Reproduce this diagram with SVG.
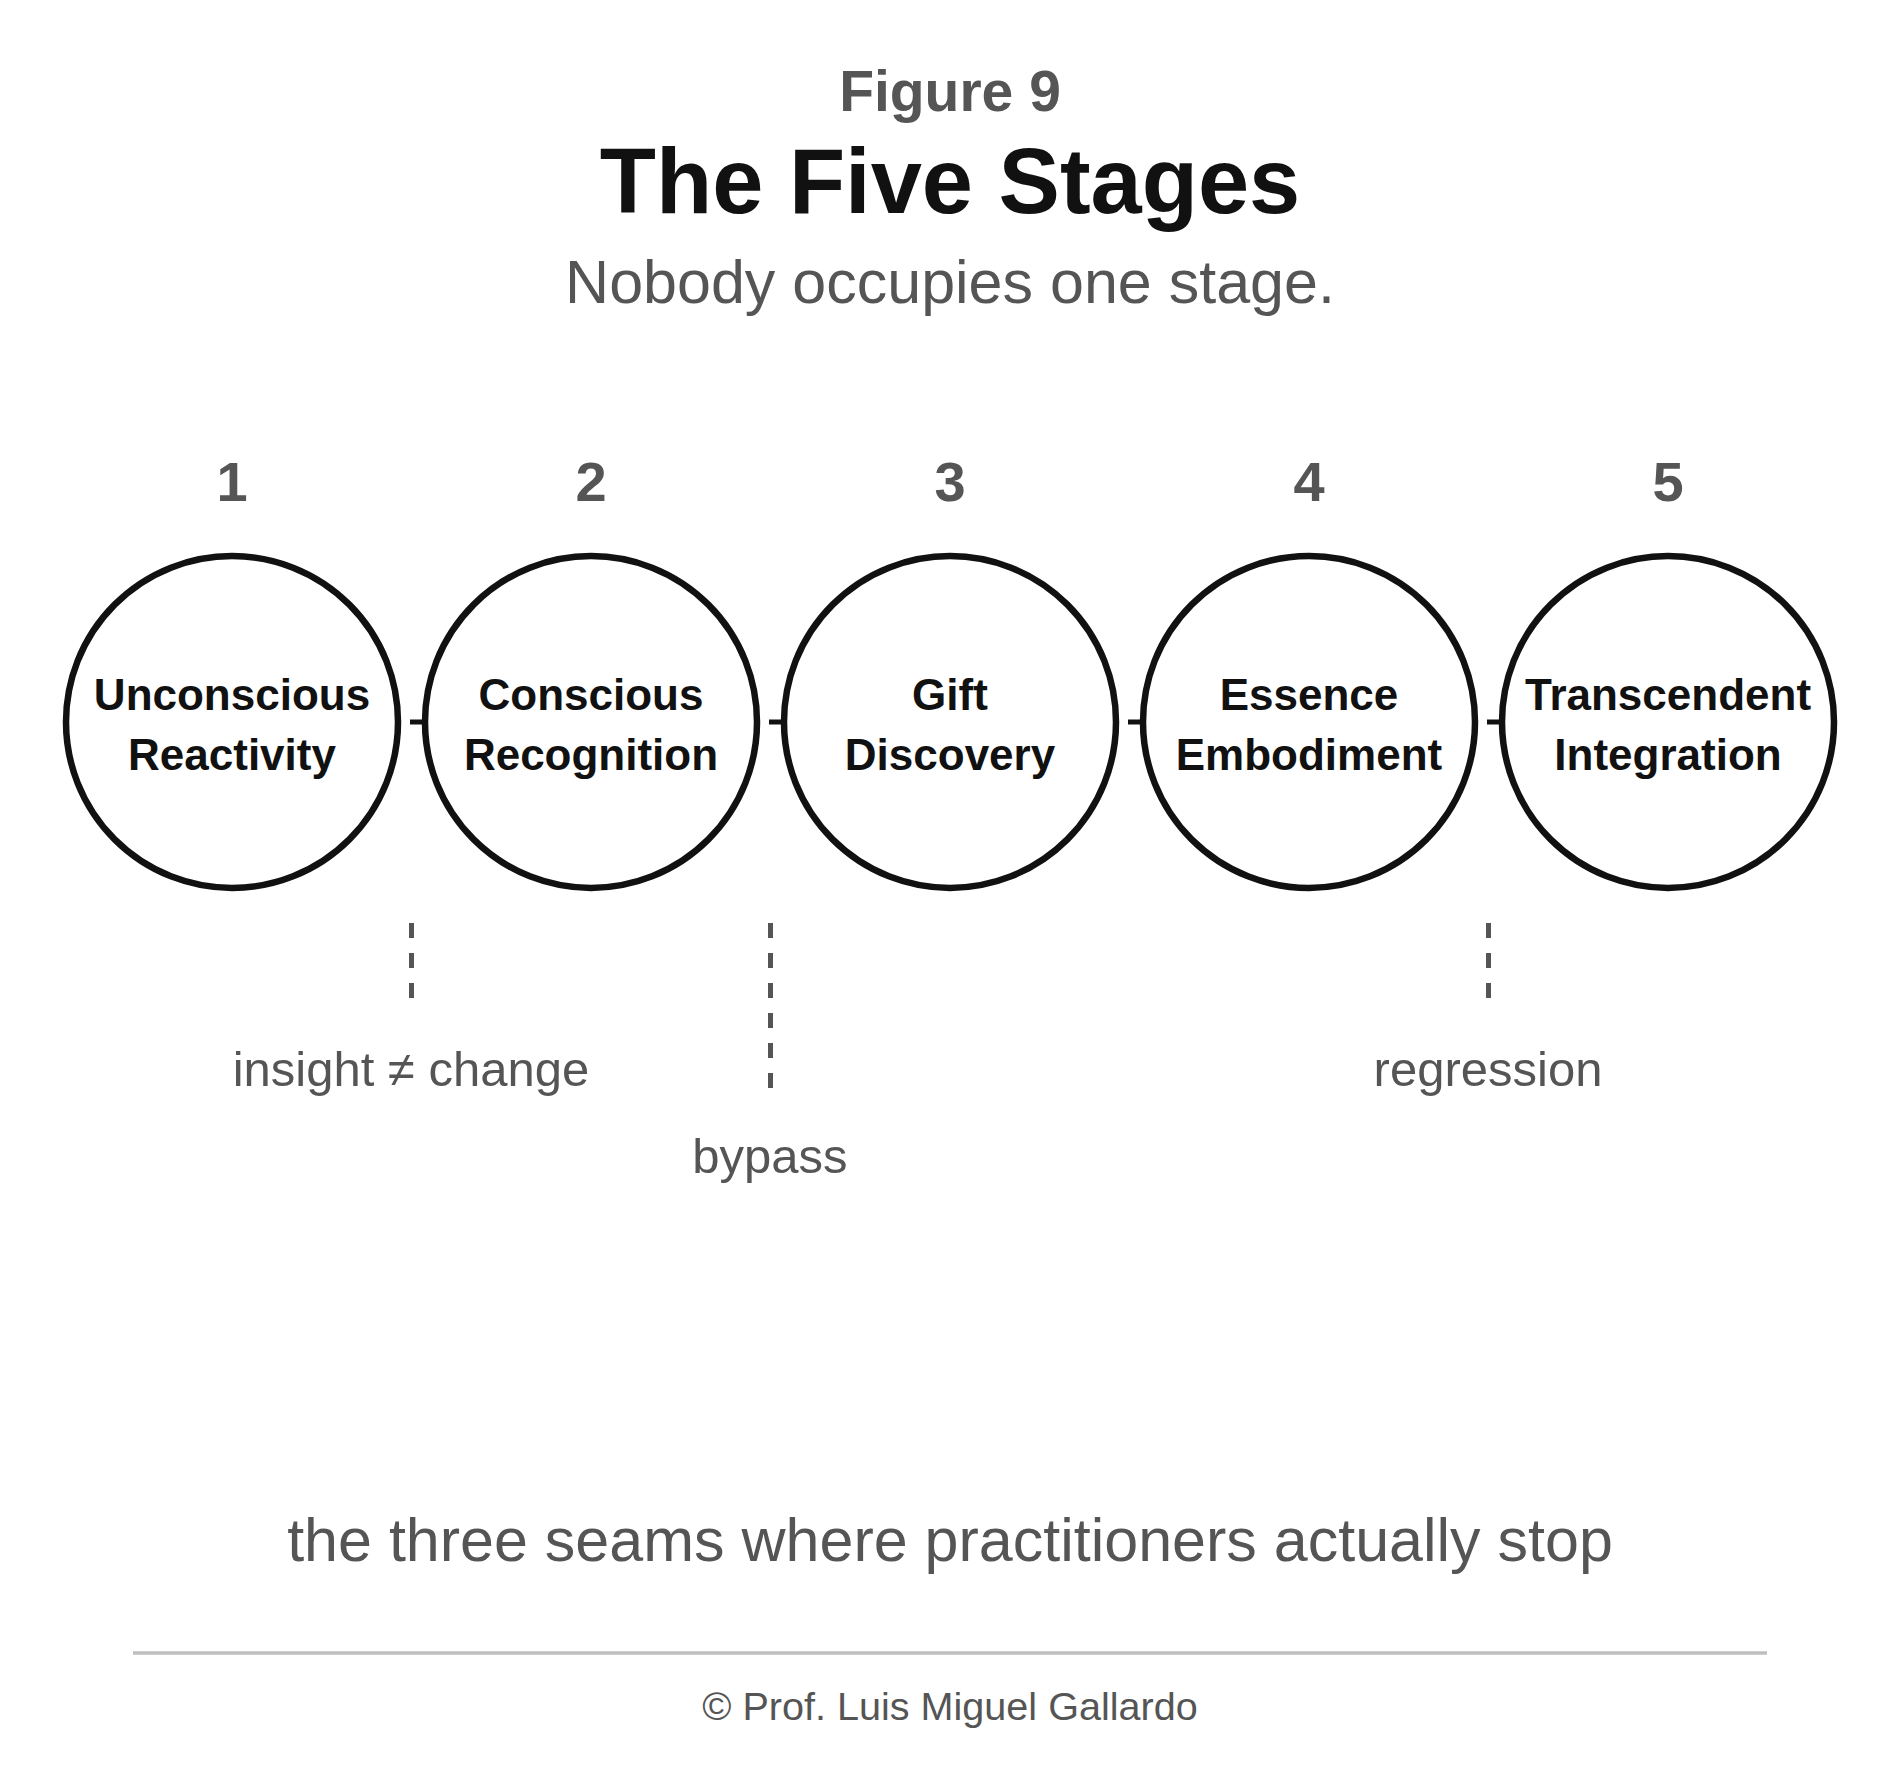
<svg xmlns="http://www.w3.org/2000/svg" width="1900" height="1786" viewBox="0 0 1900 1786">
<style>
text{font-family:"Liberation Sans",Arial,sans-serif;text-anchor:middle}
.fig{font-size:57px;font-weight:bold;fill:#555}
.title{font-size:92px;font-weight:bold;fill:#111}
.sub{font-size:61px;fill:#555}
.num{font-size:56px;font-weight:bold;fill:#555}
.node{fill:#fff;stroke:#111;stroke-width:6.5}
.lbl{font-size:44px;font-weight:bold;fill:#111}
.tick{stroke:#111;stroke-width:5}
.seam{stroke:#555;stroke-width:5;stroke-dasharray:15 15}
.seamlbl{font-size:49px;fill:#555}
.cap{font-size:61px;fill:#555}
.foot{font-size:39.6px;fill:#555}
</style>
<rect width="1900" height="1786" fill="#fff"/>
<g id="header">
<text class="fig" x="950" y="111">Figure 9</text>
<text class="title" x="950" y="213">The Five Stages</text>
<text class="sub" x="950" y="303">Nobody occupies one stage.</text>
</g>
<g id="connectors">
<line class="tick" x1="410" y1="722" x2="428" y2="722"/>
<line class="tick" x1="769" y1="722" x2="787" y2="722"/>
<line class="tick" x1="1128" y1="722" x2="1146" y2="722"/>
<line class="tick" x1="1487" y1="722" x2="1505" y2="722"/>
</g>
<g id="stage1">
<text class="num" x="232" y="501">1</text>
<circle class="node" cx="232" cy="722" r="166"/>
<text class="lbl" x="232" y="710">Unconscious</text>
<text class="lbl" x="232" y="770">Reactivity</text>
</g>
<g id="stage2">
<text class="num" x="591" y="501">2</text>
<circle class="node" cx="591" cy="722" r="166"/>
<text class="lbl" x="591" y="710">Conscious</text>
<text class="lbl" x="591" y="770">Recognition</text>
</g>
<g id="stage3">
<text class="num" x="950" y="501">3</text>
<circle class="node" cx="950" cy="722" r="166"/>
<text class="lbl" x="950" y="710">Gift</text>
<text class="lbl" x="950" y="770">Discovery</text>
</g>
<g id="stage4">
<text class="num" x="1309" y="501">4</text>
<circle class="node" cx="1309" cy="722" r="166"/>
<text class="lbl" x="1309" y="710">Essence</text>
<text class="lbl" x="1309" y="770">Embodiment</text>
</g>
<g id="stage5">
<text class="num" x="1668" y="501">5</text>
<circle class="node" cx="1668" cy="722" r="166"/>
<text class="lbl" x="1668" y="710">Transcendent</text>
<text class="lbl" x="1668" y="770">Integration</text>
</g>
<g id="seam1">
<line class="seam" x1="411.5" y1="923" x2="411.5" y2="999"/>
<text class="seamlbl" x="411" y="1086">insight ≠ change</text>
</g>
<g id="seam2">
<line class="seam" x1="770.5" y1="923" x2="770.5" y2="1089"/>
<text class="seamlbl" x="770" y="1173">bypass</text>
</g>
<g id="seam3">
<line class="seam" x1="1488.5" y1="923" x2="1488.5" y2="999"/>
<text class="seamlbl" x="1488" y="1086">regression</text>
</g>
<g id="footer">
<text class="cap" x="950" y="1561">the three seams where practitioners actually stop</text>
<line x1="133" y1="1653" x2="1767" y2="1653" stroke="#bfbfbf" stroke-width="3.5"/>
<text class="foot" x="950" y="1720">© Prof. Luis Miguel Gallardo</text>
</g>
</svg>
